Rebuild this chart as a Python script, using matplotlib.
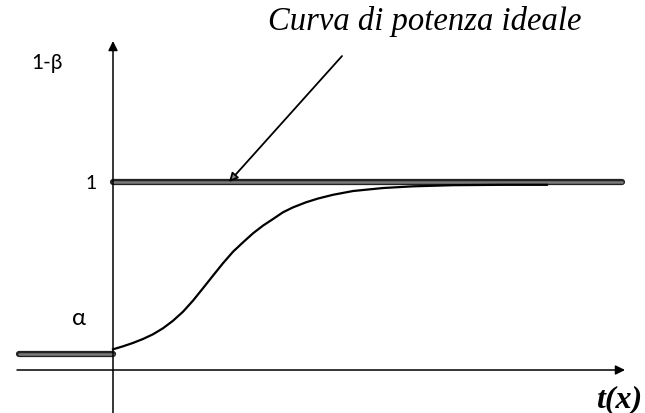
import matplotlib.pyplot as plt
import matplotlib.patheffects as pe

# power curve (t, 1-beta)
t_vals = [0, 0.1, 0.2, 0.3, 0.4, 0.5, 0.6, 0.7, 0.8, 0.9, 1.0, 1.1, 1.2, 1.3, 1.4,
          1.5, 1.6, 1.7, 1.8, 1.93, 2.05, 2.2, 2.4, 2.7, 3.0, 3.4, 3.9, 4.34]
power = [0.110, 0.126, 0.144, 0.165, 0.190, 0.222, 0.262, 0.310, 0.369, 0.435, 0.502,
         0.568, 0.629, 0.679, 0.727, 0.768, 0.803, 0.839, 0.865, 0.892, 0.912, 0.932,
         0.952, 0.968, 0.977, 0.983, 0.985, 0.985]

alpha_level = 0.085
alpha_x = [-0.94, 0]
ideal_x = [0, 5.09]
ideal_y = [1, 1]

fig = plt.figure(figsize=(6.45, 4.14), dpi=100)
ax = fig.add_axes([0, 0, 1, 1])
ax.set_xlim(-1.13, 5.32)
ax.set_ylim(-0.2287, 1.9734)
ax.axis('off')

thick = [pe.Stroke(linewidth=4.5, foreground='#222'), pe.Normal()]

# axes with arrows
ax.annotate('', xy=(5.12, 0), xytext=(-0.96, 0),
            arrowprops=dict(arrowstyle='-|>', mutation_scale=14, lw=1.1, color='k',
                            shrinkA=0, shrinkB=0))
ax.annotate('', xy=(0, 1.75), xytext=(0, -0.23),
            arrowprops=dict(arrowstyle='-|>', mutation_scale=14, lw=1.1, color='k',
                            shrinkA=0, shrinkB=0))

# ideal power line and alpha step
ax.plot(ideal_x, ideal_y, color='#7a7a7a', lw=1.8, solid_capstyle='round', path_effects=thick)
ax.plot(alpha_x, [alpha_level, alpha_level], color='#7a7a7a', lw=1.8,
        solid_capstyle='round', path_effects=thick)

# real power curve
ax.plot(t_vals, power, color='k', lw=1.6, solid_joinstyle='round')

# pointer arrow
ax.annotate('', xy=(1.16, 1.0), xytext=(2.29, 1.67),
            arrowprops=dict(arrowstyle='-|>', mutation_scale=13, lw=1.3, color='k',
                            fc='#888', shrinkA=0, shrinkB=0))

ax.text(3.12, 1.814, 'Curva di potenza ideale', fontsize=23.5, style='italic',
        family='Liberation Serif', ha='center', va='baseline')
ax.text(-0.66, 1.638, '1-β', fontsize=15, family='Lato', ha='center', va='center')
ax.text(-0.22, 1.0, '1', fontsize=14, family='Lato', ha='center', va='center')
ax.text(-0.34, 0.277, 'α', fontsize=17, family='Lato', ha='center', va='center')
ax.text(5.06, -0.154, 't(x)', fontsize=23, style='italic', weight='bold',
        family='Liberation Serif', ha='center', va='center')

fig.savefig('out.png', dpi=100)
